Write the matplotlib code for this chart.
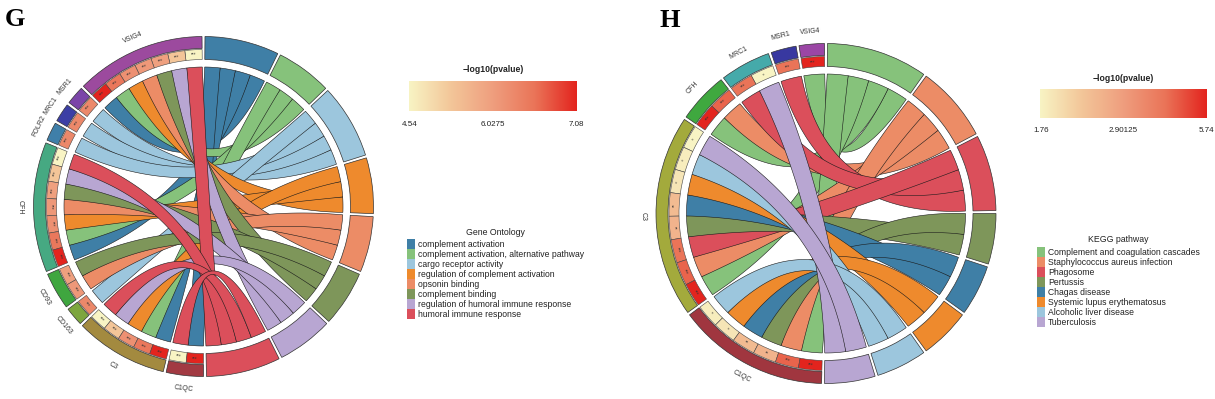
import numpy as np
import matplotlib
matplotlib.use('Agg')
import matplotlib.pyplot as plt
from matplotlib.patches import Wedge, Polygon, Rectangle
from matplotlib.colors import LinearSegmentedColormap

plt.rcParams['font.family'] = ['Liberation Sans', 'DejaVu Sans']

W, H = 1215, 399
fig = plt.figure(figsize=(W / 100, H / 100), dpi=100)

# ---------------- data : panel G (Gene Ontology) ----------------
g_genes = ['VSIG4', 'MSR1', 'MRC1', 'FOLR2', 'CFH', 'CD93', 'CD163', 'C3', 'C1QC']
g_gene_colors = ['#9C4A9E', '#7B45A8', '#3C3FA5', '#3F7FA9', '#46A982',
                 '#3FA63F', '#7DA63E', '#A38A3F', '#A23A42']
g_terms = ['complement activation',
           'complement activation, alternative pathway',
           'cargo receptor activity',
           'regulation of complement activation',
           'opsonin binding',
           'complement binding',
           'regulation of humoral immune response',
           'humoral immune response']
g_term_colors = ['#3F7FA6', '#86C27B', '#9CC6DD', '#EE8A2D',
                 '#EC8C66', '#7E965A', '#B8A6D2', '#DB4F5B']
g_term_logp = [7.08, 6.5, 6.3, 6.2, 6.1, 6.0, 5.3, 4.54]
g_links = {
    'VSIG4': [0, 1, 3, 4, 5, 6, 7],
    'MSR1': [2],
    'MRC1': [2],
    'FOLR2': [2],
    'CFH': [0, 1, 3, 4, 5, 6, 7],
    'CD93': [4, 5],
    'CD163': [2],
    'C3': [0, 1, 3, 6, 7],
    'C1QC': [0, 7],
}
g_scale = [4.54, 6.0275, 7.08]
g_scale_labels = ['4.54', '6.0275', '7.08']

# ---------------- data : panel H (KEGG) ----------------
h_genes = ['VSIG4', 'MSR1', 'MRC1', 'CFH', 'C3', 'C1QC']
h_gene_colors = ['#9B46A5', '#3838A0', '#45AAAA', '#3FA83F', '#A3AA3C', '#A0363F']
h_terms = ['Complement and coagulation cascades',
           'Staphylococcus aureus infection',
           'Phagosome',
           'Pertussis',
           'Chagas disease',
           'Systemic lupus erythematosus',
           'Alcoholic liver disease',
           'Tuberculosis']
h_term_colors = ['#86C27B', '#EC8C66', '#DB4F5B', '#7E965A',
                 '#3F7FA6', '#EE8A2D', '#9CC6DD', '#B8A6D2']
h_term_logp = [5.74, 4.6, 4.3, 2.6, 2.5, 1.95, 1.85, 1.76]
h_links = {
    'VSIG4': [0],
    'MSR1': [2],
    'MRC1': [2, 7],
    'CFH': [0, 1],
    'C3': [0, 1, 2, 3, 4, 5, 6, 7],
    'C1QC': [0, 1, 3, 4, 5, 6],
}
h_scale = [1.76, 2.90125, 5.74]
h_scale_labels = ['1.76', '2.90125', '5.74']

cmap = LinearSegmentedColormap.from_list(
    'pv', ['#F8F4C4', '#F3C699', '#EF9E7E', '#EA7458', '#E3241E'])

# radii in pixels
R_OUT, R_BAND_IN, R_CELL_OUT, R_CELL_IN, R_CHORD = 170, 158, 157, 147, 139.5
R_LABEL = 183
LAM = 0.3   # keeps ribbons from pinching in the middle


def pol(r, ang):
    a = np.radians(ang)
    return np.array([r * np.cos(a), r * np.sin(a)])


def arc(r, a1, a2, n=30):
    a = np.radians(np.linspace(a1, a2, n))
    return np.column_stack([r * np.cos(a), r * np.sin(a)])


def bezier(p0, p2, ctrl, n=90):
    t = np.linspace(0, 1, n)[:, None]
    return (1 - t) ** 2 * p0 + 2 * (1 - t) * t * ctrl + t ** 2 * p2


def tang_rot(theta):
    theta = theta % 360
    return theta - 90 if theta <= 180 else theta - 270


def stars(v):
    return '***' if v > 3 else ('**' if v > 2 else '*')


def ribbon(a1, a2, b1, b2):
    pg = pol(R_CHORD, (a1 + a2) / 2)
    pt = pol(R_CHORD, (b1 + b2) / 2)
    A1, A2, B1, B2 = (pol(R_CHORD, x) for x in (a1, a2, b1, b2))
    c1 = LAM * ((A2 - pg) + (B1 - pt))
    c2 = LAM * ((B2 - pt) + (A1 - pg))
    return np.vstack([arc(R_CHORD, a1, a2),
                      bezier(A2, B1, c1),
                      arc(R_CHORD, b1, b2),
                      bezier(B2, A1, c2)])


def chord_panel(cx, cy, genes, gene_cols, terms, term_cols, links, logp, scale, gap=1.0):
    R = 200
    ax = fig.add_axes([(cx - R) / W, (H - cy - R) / H, 2 * R / W, 2 * R / H])
    ax.set_xlim(-R, R)
    ax.set_ylim(-R, R)
    ax.axis('off')
    vmin, vmid, vmax = scale

    def vcol(v):
        if v <= vmid:
            f = 0.5 * (v - vmin) / (vmid - vmin)
        else:
            f = 0.5 + 0.5 * (v - vmid) / (vmax - vmid)
        return cmap(np.clip(f, 0, 1))

    N = sum(len(v) for v in links.values())
    u = (360 - (len(genes) + len(terms)) * gap) / (2 * N)

    gene_units = {}
    start = 90 + gap / 2
    for gi, g in enumerate(genes):
        tl = sorted(links[g], reverse=True)
        s0 = start
        for k, t in enumerate(tl):
            a1, a2 = start + k * u, start + (k + 1) * u
            gene_units[(g, t)] = (a1, a2)
            ax.add_patch(Wedge((0, 0), R_CELL_OUT, a1, a2, width=R_CELL_OUT - R_CELL_IN,
                               facecolor=vcol(logp[t]), edgecolor='#444444', lw=0.4))
            am = (a1 + a2) / 2
            p = pol((R_CELL_OUT + R_CELL_IN) / 2, am)
            ax.text(p[0], p[1], stars(logp[t]), fontsize=3.4, color='#333333',
                    ha='center', va='center', rotation=tang_rot(am))
        s1 = s0 + len(tl) * u
        ax.add_patch(Wedge((0, 0), R_OUT, s0, s1, width=R_OUT - R_BAND_IN,
                           facecolor=gene_cols[gi], edgecolor='#333333', lw=0.5))
        am = (s0 + s1) / 2
        p = pol(R_LABEL, am)
        ax.text(p[0], p[1], g, fontsize=5, color='#333333', ha='center', va='center',
                rotation=tang_rot(am))
        start = s1 + gap

    term_units = {}
    start = 90 - gap / 2
    for ti, t in enumerate(terms):
        gl = [g for g in genes[::-1] if ti in links[g]]
        for k, g in enumerate(gl):
            term_units[(g, ti)] = (start - (k + 1) * u, start - k * u)
        s0 = start - len(gl) * u
        ax.add_patch(Wedge((0, 0), R_OUT, s0, start, width=R_OUT - R_CELL_IN,
                           facecolor=term_cols[ti], edgecolor='#333333', lw=0.5))
        start = s0 - gap

    for ti in range(len(terms)):
        for g in genes:
            if ti not in links[g]:
                continue
            a1, a2 = gene_units[(g, ti)]
            b1, b2 = term_units[(g, ti)]
            ax.add_patch(Polygon(ribbon(a1, a2, b1, b2), closed=True,
                                 facecolor=term_cols[ti], edgecolor='#1a1a1a',
                                 lw=0.4, joinstyle='round'))
    return ax


chord_panel(203.5, 206.5, g_genes, g_gene_colors, g_terms, g_term_colors,
            g_links, g_term_logp, g_scale)
chord_panel(826, 213.5, h_genes, h_gene_colors, h_terms, h_term_colors,
            h_links, h_term_logp, h_scale)

# ---------------- overlay for legends (pixel coordinates) ----------------
ov = fig.add_axes([0, 0, 1, 1])
ov.axis('off')
grad = np.linspace(0, 1, 256)[None, :]


def colorbar(x0, x1, y0, y1, title_y, label_y, labels):
    ov.imshow(grad, cmap=cmap, extent=[x0, x1, y1, y0], aspect='auto')
    xc = (x0 + x1) / 2
    ov.text(xc, title_y, '\u2212log10(pvalue)', fontsize=6.2, fontweight='bold',
            color='#222222', ha='center', va='center')
    for x, lab in zip([x0 + 1, xc, x1 - 1], labels):
        ov.text(x, label_y, lab, fontsize=5.8, color='#222222', ha='center', va='center')


def legend(title, tx, ty, sx, y0, names, cols):
    ov.text(tx, ty, title, fontsize=6.3, color='#222222', ha='center', va='center')
    for i, (nm, c) in enumerate(zip(names, cols)):
        yc = y0 + 10 * i
        ov.add_patch(Rectangle((sx, yc - 5), 8.3, 10, facecolor=c, edgecolor='none'))
        ov.text(sx + 11, yc, nm, fontsize=6.2, color='#222222', ha='left', va='center')


colorbar(409, 577, 80.7, 110.7, 69.3, 124, g_scale_labels)
colorbar(1040, 1207, 89.3, 118.3, 78.3, 131, h_scale_labels)
legend('Gene Ontology', 495, 232.7, 406.7, 244.3, g_terms, g_term_colors)
legend('KEGG pathway', 1118, 240, 1037, 252.3, h_terms, h_term_colors)

ov.text(5, 25.5, 'G', fontsize=19, fontweight='bold', family='Liberation Serif',
        ha='left', va='baseline', color='black')
ov.text(660, 27.3, 'H', fontsize=19, fontweight='bold', family='Liberation Serif',
        ha='left', va='baseline', color='black')

ov.set_xlim(0, W)
ov.set_ylim(H, 0)

fig.savefig('out.png', dpi=100)
